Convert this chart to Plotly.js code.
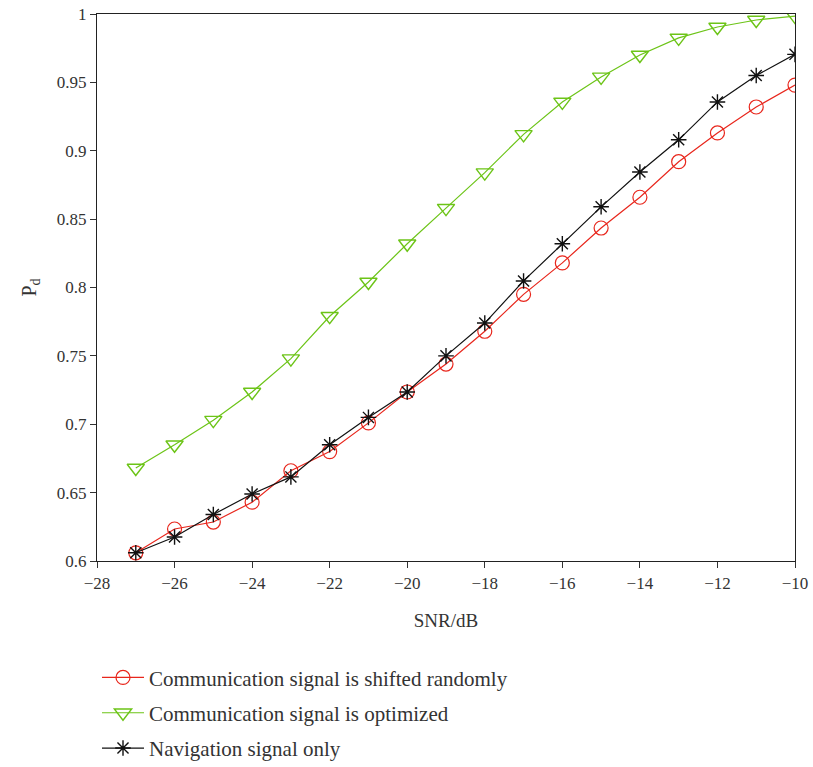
<!DOCTYPE html>
<html><head><meta charset="utf-8">
<script src="https://cdn.plot.ly/plotly-3.0.1.min.js"></script>
<style>body{margin:0;background:#fff}#chart{width:813px;height:767px}</style>
</head><body><div id="chart"></div>
<script>
const snr = [-27,-26,-25,-24,-23,-22,-21,-20,-19,-18,-17,-16,-15,-14,-13,-12,-11,-10];
const shiftedRandomly = [0.606,0.6234,0.6285,0.643,0.666,0.680,0.701,0.7236,0.744,0.768,0.795,0.818,0.8435,0.866,0.892,0.913,0.932,0.948];
const optimized = [0.668,0.685,0.703,0.7236,0.748,0.779,0.804,0.832,0.858,0.884,0.912,0.9357,0.954,0.970,0.9825,0.9905,0.9956,0.9985];
const navigationOnly = [0.606,0.6175,0.634,0.649,0.6615,0.685,0.705,0.7236,0.750,0.774,0.8048,0.832,0.859,0.8845,0.908,0.9357,0.955,0.9705];
const seriesNames = ["Communication signal is shifted randomly","Communication signal is optimized","Navigation signal only"];
const xTicks = [-28,-26,-24,-22,-20,-18,-16,-14,-12,-10];
const yTicks = [0.6,0.65,0.7,0.75,0.8,0.85,0.9,0.95,1];

const serif = "Liberation Serif, DejaVu Serif, serif";
const traces = [
  {x:snr,y:shiftedRandomly,name:seriesNames[0],legendgroup:"a",mode:"lines+markers",
   line:{color:"#e8261c",width:1.2},
   marker:{symbol:"circle-open",size:14,color:"#e8261c",line:{width:1.2}}},
  {x:snr,y:optimized,name:seriesNames[1],legendgroup:"b",mode:"lines+markers",
   line:{color:"#6cc417",width:1.2},
   marker:{symbol:"triangle-down-open",size:15,color:"#6cc417",line:{width:1.4}}},
  {x:snr,y:navigationOnly,name:seriesNames[2],legendgroup:"c",mode:"lines+markers",
   line:{color:"#111111",width:1.2},
   marker:{symbol:"asterisk-open",size:13,color:"#111111",line:{width:1.4}}}
];
const layout = {
  width:813,height:767,
  margin:{l:97,r:18,t:14,b:206,autoexpand:false},
  paper_bgcolor:"#fff",plot_bgcolor:"#fff",
  font:{family:serif,size:17,color:"#333"},
  showlegend:true,
  legend:{orientation:"v",x:0.0,xanchor:"left",y:0.143,yref:"container",yanchor:"top",
    font:{family:serif,size:21,color:"#333"},traceorder:"grouped",tracegroupgap:5,
    itemwidth:42,bgcolor:"rgba(0,0,0,0)"},
  xaxis:{range:[-28,-10],tickvals:xTicks,ticktext:xTicks.map(v=>v<0?"\u2212"+Math.abs(v):String(v)),
    ticks:"outside",ticklen:6,tickcolor:"#333",showline:true,linecolor:"#222",linewidth:1.2,
    mirror:true,showgrid:false,zeroline:false,
    title:{text:"SNR/dB",font:{family:serif,size:19,color:"#333"},standoff:22}},
  yaxis:{range:[0.6,1],tickvals:yTicks,ticktext:yTicks.map(v=>String(v)),
    ticks:"outside",ticklen:6,tickcolor:"#333",showline:true,linecolor:"#222",linewidth:1.2,
    mirror:true,showgrid:false,zeroline:false,
    title:{text:"P<sub>d</sub>",font:{family:serif,size:20,color:"#333"},standoff:14}}
};
Plotly.newPlot("chart",traces,layout,{displayModeBar:false});
</script></body></html>
